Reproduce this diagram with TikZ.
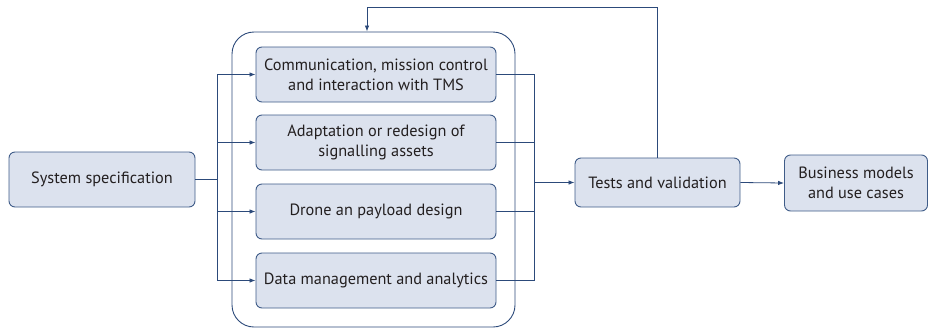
\documentclass[tikz,border=0pt]{standalone}
\usepackage{fontspec}
\setmainfont{PT Sans}
\usetikzlibrary{arrows.meta}

\definecolor{boxfill}{HTML}{DCE2EE}
\definecolor{boxline}{HTML}{3F5C88}
\definecolor{linkline}{HTML}{2C4A7A}
\definecolor{textgray}{HTML}{231F20}

\tikzset{
  stage/.style={draw=boxline, fill=boxfill, line width=0.9pt, rounded corners=6pt,
    align=center, text=textgray, font=\fontsize{16.3}{20}\selectfont, inner sep=0pt},
  group/.style={draw=linkline, line width=0.9pt, rounded corners=22pt, inner sep=0pt},
  link/.style={draw=linkline, line width=0.8pt},
  flow/.style={link, -{Latex[length=6pt,width=4.5pt]}}
}

\begin{document}
\begin{tikzpicture}[x=1pt, y=-1pt]
\useasboundingbox (0,0) rectangle (929,330);

% container round the four work packages
\node[group, minimum width=283pt, minimum height=295pt] (wps) at (373.5,179.5) {};

\node[stage, minimum width=186pt, minimum height=55pt] (spec) at (102,179.5) {System specification};

\node[stage, minimum width=240pt, minimum height=55pt] (wp1) at (376,74.5) {Communication, mission control\\and interaction with TMS};
\node[stage, minimum width=240pt, minimum height=55pt] (wp2) at (376,142.5) {Adaptation or redesign of\\signalling assets};
\node[stage, minimum width=240pt, minimum height=55pt] (wp3) at (376,211.5) {Drone an payload design};
\node[stage, minimum width=240pt, minimum height=55pt] (wp4) at (376,280.5) {Data management and analytics};

\node[stage, minimum width=165pt, minimum height=49pt] (tests) at (657.5,182.5) {Tests and validation};
\node[stage, minimum width=143pt, minimum height=56pt] (biz) at (856,183) {Business models\\and use cases};

% fan out from the specification
\coordinate (split) at (217,179.5);
\draw[link] (spec.east) -- (split);
\foreach \wp in {wp1,wp2,wp3,wp4}
  \draw[flow] (split) |- (\wp.west);

% gather into the tests
\coordinate (merge) at (534,182.5);
\foreach \wp in {wp1,wp2,wp3,wp4}
  \draw[link] (\wp.east) -| (merge);
\draw[flow] (merge) -- (tests.west);

\draw[flow] (tests.east) -- (biz.west);

% feedback loop back to the work packages
\coordinate (back) at (367,7);
\draw[flow] (tests.north) |- (back) -- (back |- wps.north);

\end{tikzpicture}
\end{document}
